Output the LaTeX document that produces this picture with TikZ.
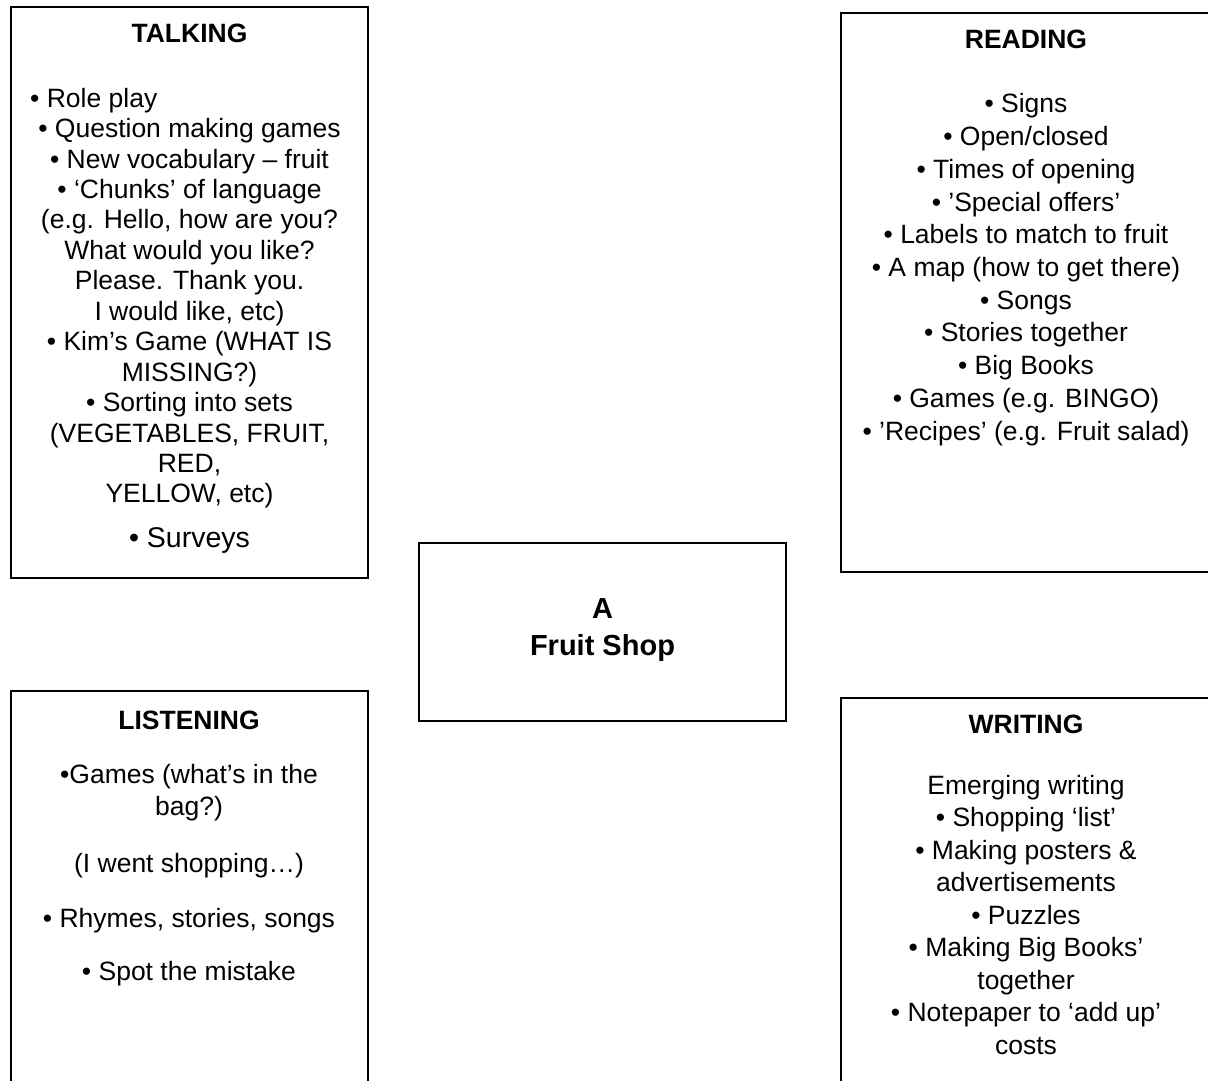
\documentclass[tikz,border=0pt]{standalone}
\usepackage{fontspec}
\setmainfont{Liberation Sans}
\begin{document}
\begin{tikzpicture}[x=1pt,y=-1pt,
  box/.style={draw,line width=1.6pt,inner sep=0pt},
  ln/.style={anchor=base,inner sep=0pt,font=\fontsize{26.5}{30}\selectfont},
  ttl/.style={anchor=base,inner sep=0pt,font=\fontsize{26.5}{30}\selectfont\bfseries}]
\useasboundingbox (0,0) rectangle (1208,1081);
% boxes
\node[box,minimum width=357pt,minimum height=571pt] (talkbox) at (189.5,292.5) {};
\node[box,minimum width=372pt,minimum height=559pt] (readbox) at (1027,292.5) {};
\node[box,minimum width=367pt,minimum height=178pt] (shopbox) at (602.5,632) {};
\node[box,minimum width=357pt,minimum height=399pt] (listbox) at (189.5,890.5) {};
\node[box,minimum width=372pt,minimum height=392pt] (writbox) at (1027,894) {};
% centre
\node[ttl,font=\fontsize{29}{33}\selectfont\bfseries] (shopA) at (602.5,618) {A};
\node[ttl,font=\fontsize{29}{33}\selectfont\bfseries] (shopB) at (602.5,655) {Fruit Shop};
% TALKING
\node[ttl] (talkT) at (189.5,43) {TALKING};
\node[ln,anchor=base west] (tk0) at (30,107) {• Role play};
\foreach \yy/\tt [count=\i] in {
  137.5/{• Question making games},
  168/{• New vocabulary – fruit},
  198.4/{• ‘Chunks’ of language},
  228.8/{(e.g. Hello, how are you?},
  259.3/{What would you like?},
  289.7/{Please. Thank you.},
  320.2/{I would like, etc)},
  350.6/{• Kim’s Game (WHAT IS},
  381/{MISSING?)},
  411.5/{• Sorting into sets},
  442/{(VEGETABLES, FRUIT,},
  472.4/{RED,},
  502.9/{YELLOW, etc)}}
  \node[ln] (tk\i) at (189.5,\yy) {\tt};
\node[ln,font=\fontsize{28.5}{32}\selectfont] (tk14) at (189.5,547) {• Surveys};
% READING
\node[ttl] (readT) at (1026,49) {READING};
\foreach \yy/\tt [count=\i] in {
  113/{• Signs},
  145.7/{• Open/closed},
  178.4/{• Times of opening},
  211.1/{• ’Special offers’},
  243.8/{• Labels to match to fruit},
  276.5/{• A map (how to get there)},
  309.2/{• Songs},
  341.9/{• Stories together},
  374.6/{• Big Books},
  407.3/{• Games (e.g. BINGO)},
  440/{• ’Recipes’ (e.g. Fruit salad)}}
  \node[ln] (rd\i) at (1026,\yy) {\tt};
% LISTENING
\node[ttl] (listT) at (189,729) {LISTENING};
\foreach \yy/\tt [count=\i] in {
  783/{•Games (what’s in the},
  815/{bag?)},
  872/{(I went shopping…)},
  927/{• Rhymes, stories, songs},
  980/{• Spot the mistake}}
  \node[ln] (ls\i) at (189,\yy) {\tt};
% WRITING
\node[ttl] (writT) at (1026,733) {WRITING};
\foreach \yy/\tt [count=\i] in {
  794/{Emerging writing},
  826.5/{• Shopping ‘list’},
  859/{• Making posters \&},
  891.5/{advertisements},
  924/{• Puzzles},
  956.5/{• Making Big Books’},
  989/{together},
  1021.5/{• Notepaper to ‘add up’},
  1054/{costs}}
  \node[ln] (wr\i) at (1026,\yy) {\tt};
\end{tikzpicture}
\end{document}
